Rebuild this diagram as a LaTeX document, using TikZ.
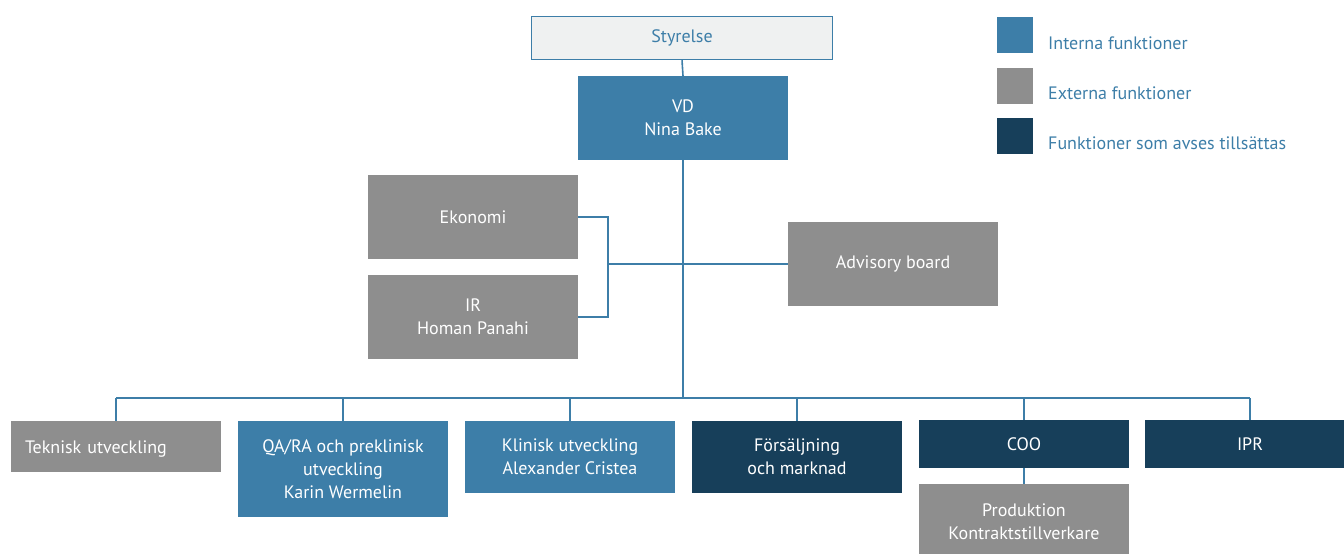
\documentclass[tikz,border=0pt]{standalone}
\usepackage{fontspec}
\setmainfont{PT Sans}
\definecolor{cblue}{HTML}{3D7EA8}
\definecolor{cgray}{HTML}{8E8E8E}
\definecolor{cdark}{HTML}{173F5A}
\definecolor{clight}{HTML}{EFF1F1}
\begin{document}
\begin{tikzpicture}[x=1pt,y=-1pt,
  box/.style={rectangle, inner sep=0pt, minimum width=210pt, align=center, text=white, font=\fontsize{18}{23}\selectfont},
  intern/.style={box, fill=cblue},
  extern/.style={box, fill=cgray},
  planned/.style={box, fill=cdark},
  conn/.style={draw=cblue, line width=1.6pt},
  legsq/.style={rectangle, inner sep=0pt, minimum width=36pt, minimum height=36pt},
  legtxt/.style={anchor=west, inner sep=0pt, text=cblue, font=\fontsize{18}{20}\selectfont}]
\useasboundingbox (0,0) rectangle (1344,554);
% top
\node[box, draw=cblue, line width=1.5pt, fill=clight, text=cblue, minimum width=301pt, minimum height=43pt] (styr) at (682,38) {Styrelse};
\node[intern, minimum height=84pt] (vd) at (683,118) {VD\\Nina Bake};
% staff
\node[extern, minimum height=84pt] (ekon) at (473,217) {Ekonomi};
\node[extern, minimum height=84pt] (ir) at (473,317) {IR\\Homan Panahi};
\node[extern, minimum height=84pt] (adv) at (893,264) {Advisory board};
% bottom row
\node[extern, minimum height=51pt, text width=182pt, align=left] (tek) at (116,446.5) {\raisebox{-3pt}[10pt][3pt]{Teknisk utveckling}};
\node[intern, minimum height=96pt] (qa) at (343,469) {QA/RA och preklinisk\\utveckling\\Karin Wermelin};
\node[intern, minimum height=72pt] (kli) at (570,457) {Klinisk utveckling\\Alexander Cristea};
\node[planned, minimum height=72pt] (fors) at (797,457) {Försäljning\\och marknad};
\node[planned, minimum height=48pt] (coo) at (1024,444) {COO};
\node[extern, minimum height=76pt] (prod) at (1024,522) {Produktion\\Kontraktstillverkare};
\node[planned, minimum height=48pt] (ipr) at (1250,444) {IPR};
% legend
\node[legsq, fill=cblue] (l1) at (1015,35) {};
\node[legsq, fill=cgray] (l2) at (1015,86) {};
\node[legsq, fill=cdark] (l3) at (1015,136) {};
\node[legtxt] (t1) at (1048,43) {Interna funktioner};
\node[legtxt] (t2) at (1048,93) {Externa funktioner};
\node[legtxt] (t3) at (1048,143) {Funktioner som avses tillsättas};
% connectors
\coordinate (busL) at (116,398);
\coordinate (busR) at (1250,398);
\coordinate (brk) at (608,264);
\draw[conn] (styr.south) -- (vd.north);
\draw[conn] (vd.south) -- (vd.south |- busL);
\draw[conn] (busL) -- (busR);
\foreach \n in {tek,qa,kli,fors,coo,ipr} \draw[conn] (\n.north) -- (\n.north |- busL);
\draw[conn] (coo.south) -- (prod.north);
\draw[conn] (ekon.east) -- (ekon.east -| brk) -- (ir.east -| brk) -- (ir.east);
\draw[conn] (brk) -- (adv.west);
\end{tikzpicture}
\end{document}
